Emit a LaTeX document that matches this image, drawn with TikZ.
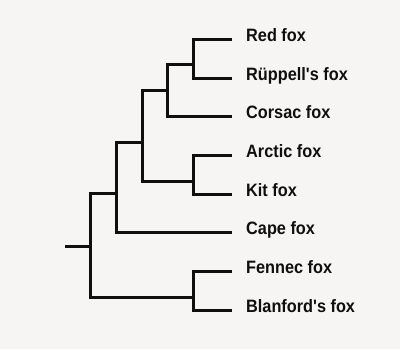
\documentclass[tikz,border=0pt]{standalone}
\usepackage{fontspec}
\setmainfont{Liberation Sans}[FakeStretch=0.91,Ligatures=TeXOff]
\definecolor{bg}{RGB}{246,245,243}
\definecolor{ink}{RGB}{15,15,15}
\begin{document}
\begin{tikzpicture}[x=1pt,y=-1pt,
  branch/.style={draw=ink,line width=3pt,line join=miter},
  lab/.style={anchor=base west,inner sep=0pt,xshift=14pt,yshift=-2.5pt,
    text=ink,font=\fontsize{17.9}{20}\selectfont\bfseries}]
\fill[bg] (0,0) rectangle (400,349);
\useasboundingbox (0,0) rectangle (400,349);
% internal nodes
\coordinate (r0) at (65,246);
\coordinate (n1) at (90,246);
\coordinate (n2) at (116,193);
\coordinate (n3) at (142,142);
\coordinate (n4) at (167,90);
\coordinate (n5) at (193,64);
\coordinate (n6) at (193,181);
\coordinate (n8) at (193,297);
% leaves
\coordinate (red) at (232,39);
\coordinate (rup) at (232,78);
\coordinate (cor) at (232,116);
\coordinate (arc) at (232,155);
\coordinate (kit) at (232,194);
\coordinate (cap) at (232,232);
\coordinate (fen) at (232,271);
\coordinate (bla) at (232,310);
% branches
\draw[branch] (r0) -- (n1);
\draw[branch] (n1) |- (n2);
\draw[branch] (n1) |- (n8);
\draw[branch] (n2) |- (n3);
\draw[branch] (n2) |- (cap);
\draw[branch] (n3) |- (n4);
\draw[branch] (n3) |- (n6);
\draw[branch] (n4) |- (n5);
\draw[branch] (n4) |- (cor);
\draw[branch] (n5) |- (red);
\draw[branch] (n5) |- (rup);
\draw[branch] (n6) |- (arc);
\draw[branch] (n6) |- (kit);
\draw[branch] (n8) |- (fen);
\draw[branch] (n8) |- (bla);
% labels
\node[lab] (lred) at (red) {Red fox};
\node[lab] (lrup) at (rup) {Rüppell's fox};
\node[lab] (lcor) at (cor) {Corsac fox};
\node[lab] (larc) at (arc) {Arctic fox};
\node[lab] (lkit) at (kit) {Kit fox};
\node[lab] (lcap) at (cap) {Cape fox};
\node[lab] (lfen) at (fen) {Fennec fox};
\node[lab] (lbla) at (bla) {Blanford's fox};
\end{tikzpicture}
\end{document}
